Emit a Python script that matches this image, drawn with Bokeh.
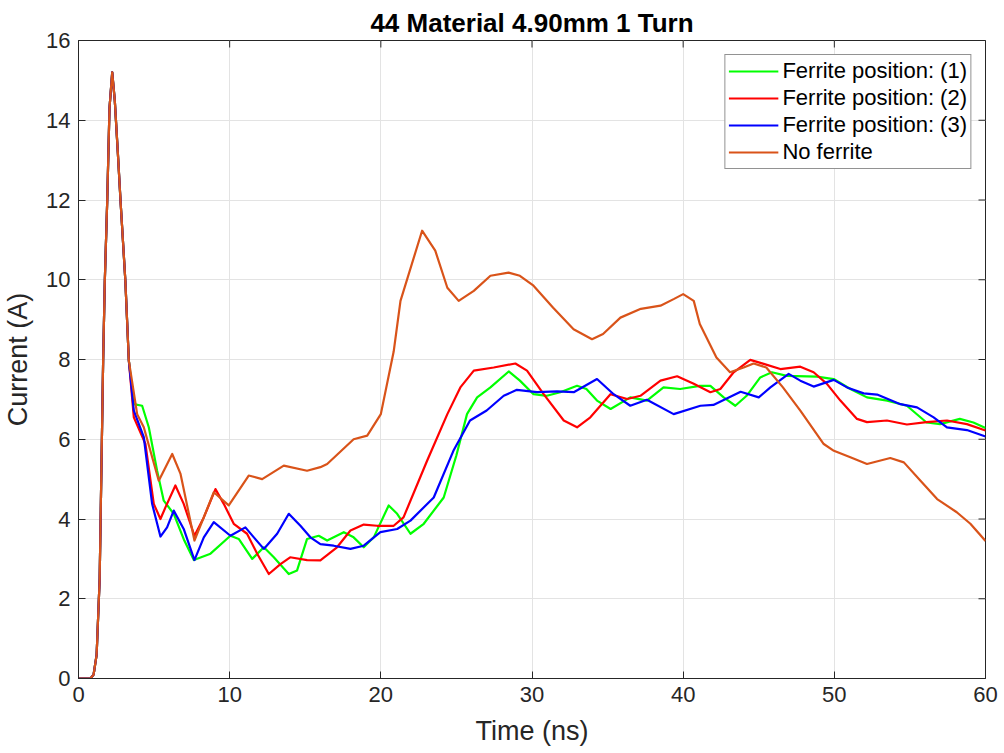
import math
from bokeh.plotting import figure
from bokeh.models import FixedTicker, Legend, LegendItem, Range1d
from bokeh.embed import file_html
from bokeh.resources import INLINE

# shared initial pulse (all curves coincide)
t_common = [0, 0.8, 1.0, 1.2, 1.4, 1.63, 1.74, 1.9, 2.05, 2.23, 2.4, 2.6, 2.78, 3.1, 3.33]
y_common = [0, 0, 0.1, 0.6, 2.5, 7.97, 9.97, 11.98, 14.3, 15.2, 14.5, 13.2, 11.98, 9.97, 7.97]

t_f1 = [3.66, 4.21, 4.65, 5.2, 5.64, 6.3, 7.0, 7.63, 8.73, 10.05, 10.6, 11.49, 12.26, 12.92,
        13.91, 14.46, 15.12, 15.89, 16.45, 17.55, 18.2, 18.87, 19.53, 20.52, 21.08, 21.96,
        22.84, 24.16, 25.0, 25.7, 26.37, 27.25, 28.46, 29.2, 30.1, 30.98, 31.87, 32.98, 33.6, 34.3,
        35.2, 36.5, 37.6, 38.7, 39.8, 41.1, 41.8, 42.68, 43.45, 44.2, 45.1, 45.87, 46.86, 48.85,
        49.96, 51.06, 52.16, 53.5, 54.8, 56.1, 57.0, 58.3, 59.2, 60.0]
y_f1 = [6.88, 6.84, 6.3, 5.21, 4.46, 4.13, 3.46, 2.97, 3.13, 3.58, 3.5, 3.0, 3.29, 3.04,
        2.62, 2.71, 3.5, 3.58, 3.46, 3.67, 3.54, 3.29, 3.54, 4.34, 4.13, 3.63,
        3.88, 4.54, 5.6, 6.63, 7.05, 7.3, 7.7, 7.47, 7.13, 7.09, 7.18, 7.34, 7.26, 6.97,
        6.76, 7.05, 6.97, 7.3, 7.26, 7.34, 7.34, 7.05, 6.84, 7.09, 7.55, 7.68, 7.59, 7.57,
        7.51, 7.26, 7.05, 6.97, 6.84, 6.42, 6.38, 6.51, 6.42, 6.28]

t_f2 = [3.66, 4.43, 4.98, 5.42, 5.75, 6.41, 6.96, 7.67, 8.29, 9.06, 9.61, 10.27, 11.15, 11.82,
        12.59, 13.36, 14.0, 15.12, 16.0, 17.1, 17.99, 18.87, 19.75, 20.85, 21.5, 23.06, 24.4, 25.26,
        26.15, 27.47, 28.9, 29.67, 30.77, 32.1, 32.98, 33.86, 35.19, 36.3, 37.17, 38.5, 39.6, 40.7,
        41.8, 42.46, 43.34, 44.44, 45.33, 46.43, 47.75, 48.63, 49.51, 50.4, 51.5, 52.16, 53.48,
        54.8, 56.1, 57.45, 58.77, 60.0]
y_f2 = [6.55, 5.88, 4.38, 4.0, 4.29, 4.84, 4.38, 3.58, 4.04, 4.75, 4.38, 3.88, 3.63, 3.13,
        2.62, 2.87, 3.04, 2.97, 2.96, 3.29, 3.71, 3.86, 3.83, 3.83, 4.04, 5.46, 6.63, 7.3,
        7.72, 7.8, 7.9, 7.72, 7.13, 6.47, 6.3, 6.55, 7.13, 7.01, 7.09, 7.47, 7.58, 7.39,
        7.18, 7.26, 7.68, 7.99, 7.89, 7.76, 7.82, 7.68, 7.39, 6.97, 6.51, 6.43, 6.47,
        6.37, 6.43, 6.47, 6.38, 6.22]

t_f3 = [3.66, 4.32, 4.87, 5.42, 5.86, 6.3, 6.96, 7.67, 8.29, 8.95, 10.05, 11.04, 11.6, 12.26,
        13.14, 13.91, 14.68, 15.34, 16.0, 16.88, 17.99, 18.87, 19.97, 21.08, 21.96, 23.5, 24.8, 25.9,
        27.0, 28.13, 29.0, 30.33, 31.66, 32.76, 34.3, 35.4, 36.5, 37.6, 39.37, 41.14, 42.0, 43.8,
        45.0, 45.77, 46.98, 47.75, 48.63, 49.96, 50.84, 51.94, 52.83, 54.37, 55.47, 56.57, 57.45,
        58.77, 60.0]
y_f3 = [6.72, 6.05, 4.38, 3.56, 3.79, 4.21, 3.75, 2.97, 3.54, 3.92, 3.58, 3.79, 3.54, 3.25,
        3.63, 4.13, 3.83, 3.54, 3.37, 3.33, 3.25, 3.33, 3.67, 3.75, 3.96, 4.54, 5.71, 6.47,
        6.72, 7.09, 7.24, 7.18, 7.2, 7.18, 7.51, 7.13, 6.84, 6.99, 6.63, 6.84, 6.86, 7.19,
        7.05, 7.3, 7.64, 7.47, 7.32, 7.49, 7.3, 7.15, 7.12, 6.88, 6.8, 6.55, 6.3,
        6.23, 6.07]

t_nf = [3.88, 4.32, 5.31, 6.2, 6.75, 7.67, 8.95, 9.94, 11.26, 12.15, 13.58, 15.12, 16.0, 16.45,
        18.2, 19.1, 20.0, 20.85, 21.3, 22.73, 23.6, 24.4, 25.15, 26.15, 27.25, 28.45, 29.2, 30.1,
        31.4, 32.75, 33.97, 34.7, 35.85, 37.2, 38.5, 39.4, 40.0, 40.7, 41.1, 42.2, 43.1, 44.0,
        44.66, 45.5, 46.6, 47.75, 49.3, 49.97, 51.06, 52.16, 53.7, 54.6, 55.7, 56.8, 58.1, 59.0, 60.0]
y_nf = [6.63, 6.3, 4.96, 5.63, 5.13, 3.46, 4.67, 4.34, 5.09, 5.0, 5.34, 5.21, 5.3, 5.38,
        6.0, 6.09, 6.63, 8.2, 9.47, 11.23, 10.73, 9.8, 9.47, 9.72, 10.1, 10.18, 10.1, 9.85,
        9.3, 8.76, 8.51, 8.64, 9.05, 9.27, 9.35, 9.52, 9.64, 9.47, 8.89, 8.05, 7.68, 7.8,
        7.9, 7.8, 7.3, 6.72, 5.88, 5.71, 5.55, 5.38, 5.53, 5.42, 4.96, 4.5, 4.17, 3.88, 3.45]

labels = ["Ferrite position: (1)", "Ferrite position: (2)", "Ferrite position: (3)", "No ferrite"]
colors = ["#00FF00", "#FF0000", "#0000FF", "#D95319"]
x_ticks = [0, 10, 20, 30, 40, 50, 60]
y_ticks = [0, 2, 4, 6, 8, 10, 12, 14, 16]
X_MAX = 60
Y_MAX = 16

FONT = "Liberation Sans"
AX = "#262626"

p = figure(width=1000, height=753, x_range=Range1d(0, X_MAX), y_range=Range1d(0, Y_MAX),
           output_backend="svg", toolbar_location=None,
           min_border_left=78, min_border_right=15, min_border_top=40, min_border_bottom=75)
p.title.text = "44 Material 4.90mm 1 Turn"
p.title.align = "center"
p.title.text_font = FONT
p.title.text_font_size = "26px"
p.title.text_font_style = "bold"
p.title.text_color = "#000000"
p.title.standoff = 6
p.outline_line_color = AX
p.outline_line_width = 1
p.background_fill_color = "white"
p.border_fill_color = "white"

for ax in [p.xaxis[0], p.yaxis[0]]:
    ax.major_tick_in = 7
    ax.major_tick_out = 0
    ax.minor_tick_in = 0
    ax.minor_tick_out = 0
    ax.axis_line_color = AX
    ax.major_tick_line_color = AX
    ax.major_label_text_font = FONT
    ax.major_label_text_font_size = "22px"
    ax.major_label_text_color = AX
    ax.axis_label_text_font = FONT
    ax.axis_label_text_font_size = "27px"
    ax.axis_label_text_font_style = "normal"
    ax.axis_label_text_color = AX
p.xaxis[0].ticker = FixedTicker(ticks=x_ticks)
p.yaxis[0].ticker = FixedTicker(ticks=y_ticks)
p.xaxis[0].axis_label = "Time (ns)"
p.yaxis[0].axis_label = "Current (A)"
p.xaxis[0].major_label_standoff = 8
p.yaxis[0].major_label_standoff = 8
p.xaxis[0].axis_label_standoff = 11
p.yaxis[0].axis_label_standoff = 10

p.xgrid.ticker = FixedTicker(ticks=x_ticks)
p.ygrid.ticker = FixedTicker(ticks=y_ticks)
p.xgrid.grid_line_color = "#E3E3E3"
p.ygrid.grid_line_color = "#E3E3E3"

# inward ticks on top and right edges (box style)
p.scatter(x=x_ticks, y=[Y_MAX] * len(x_ticks), marker="dash", angle=math.pi / 2, size=14,
          line_color=AX, line_width=1)
p.scatter(x=[X_MAX] * len(y_ticks), y=y_ticks, marker="dash", size=14,
          line_color=AX, line_width=1)

series = [(t_f1, y_f1), (t_f2, y_f2), (t_f3, y_f3), (t_nf, y_nf)]
renderers = []
for (tt, yy), c in zip(series, colors):
    r = p.line(t_common + tt, y_common + yy, line_color=c, line_width=2.2, line_join="round")
    renderers.append(r)

legend = Legend(items=[LegendItem(label=l, renderers=[r]) for l, r in zip(labels, renderers)],
                location="top_right")
legend.label_text_font = FONT
legend.label_text_font_size = "22px"
legend.label_text_color = "#000000"
legend.glyph_width = 50
legend.glyph_height = 22
legend.label_height = 22
legend.label_standoff = 4
legend.spacing = 1
legend.padding = 3
legend.margin = 14
legend.border_line_color = AX
legend.border_line_width = 1
legend.background_fill_alpha = 1
p.add_layout(legend)

open("out.html", "w").write(file_html(p, INLINE))
